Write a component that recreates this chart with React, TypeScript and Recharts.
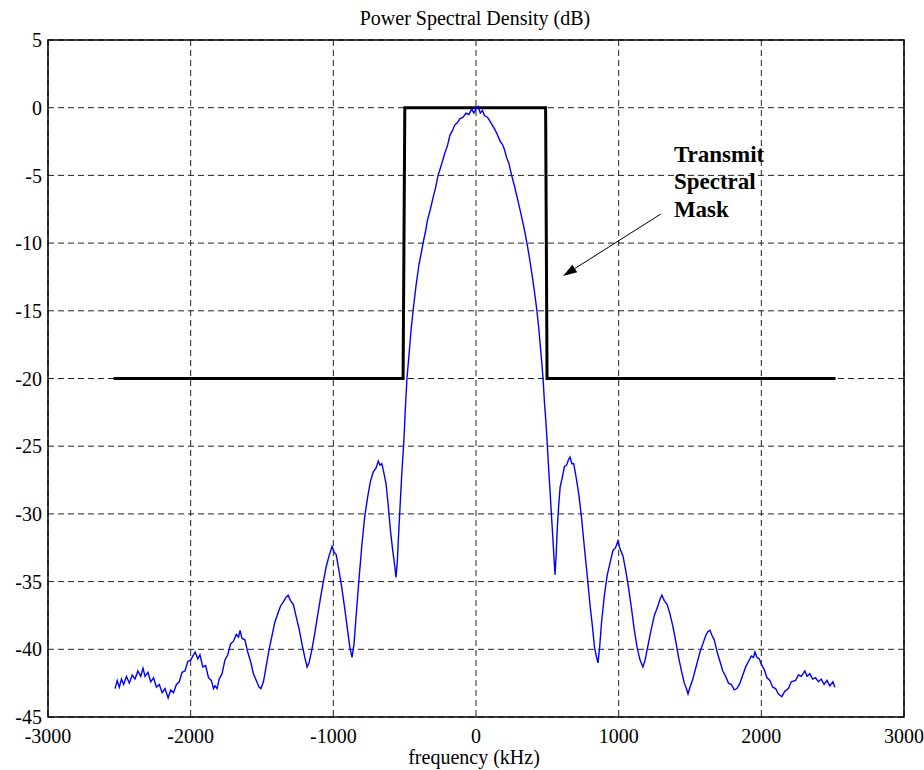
import { LineChart, Line, XAxis, YAxis, CartesianGrid, ReferenceArea, ReferenceLine } from 'recharts'

// frequency ticks (kHz) and level ticks (dB)
const FREQ_TICKS = [-3000, -2000, -1000, 0, 1000, 2000, 3000]
const DB_TICKS = [5, 0, -5, -10, -15, -20, -25, -30, -35, -40, -45]

// transmit spectral mask
const MASK_F = [-2540, -511, -499, 488, 498, 2520]
const MASK_DB = [-20, -20, 0, 0, -20, -20]

const PSD_F = [
  -2530, -2515, -2500, -2485, -2470, -2450, -2430, -2410, -2390, -2370, -2350, -2334, -2320, -2300, -2280, -2260,
  -2240, -2220, -2200, -2180, -2158, -2140, -2120, -2100, -2080, -2060, -2040, -2020, -2000, -1985, -1969, -1950,
  -1935, -1915, -1895, -1875, -1855, -1840, -1829, -1815, -1800, -1780, -1760, -1740, -1720, -1700, -1680, -1665,
  -1654, -1640, -1620, -1600, -1580, -1560, -1540, -1520, -1507, -1490, -1470, -1450, -1430, -1410, -1390, -1370,
  -1350, -1335, -1317, -1300, -1280, -1260, -1240, -1220, -1200, -1184, -1170, -1150, -1130, -1110, -1090, -1070,
  -1050, -1030, -1009, -995, -980, -960, -940, -920, -900, -885, -869, -855, -840, -820, -800, -780,
  -760, -740, -720, -700, -685, -673, -660, -645, -630, -615, -600, -585, -570, -561, -552, -540,
  -530, -520, -505, -495, -484, -470, -455, -441, -420, -400, -385, -371, -355, -340, -320, -300,
  -283, -266, -245, -220, -200, -182, -165, -150, -130, -112, -90, -70, -50, -30, -15, 0,
  15, 30, 45, 60, 80, 98, 115, 132, 150, 170, 185, 200, 215, 230, 250, 270,
  290, 310, 329, 343, 357, 375, 395, 410, 427, 440, 450, 460, 470, 480, 490, 498,
  510, 520, 530, 540, 548, 554, 562, 570, 580, 590, 605, 620, 635, 648, 659, 672,
  685, 700, 720, 740, 760, 780, 800, 815, 830, 843, 855, 867, 880, 900, 920, 940,
  960, 978, 995, 1010, 1030, 1050, 1070, 1090, 1110, 1130, 1150, 1170, 1185, 1200, 1225, 1250,
  1275, 1290, 1303, 1320, 1340, 1360, 1380, 1400, 1420, 1440, 1460, 1475, 1486, 1500, 1520, 1545,
  1570, 1590, 1610, 1625, 1640, 1655, 1670, 1690, 1710, 1730, 1750, 1770, 1790, 1810, 1829, 1850,
  1870, 1890, 1910, 1930, 1945, 1955, 1970, 1985, 2000, 2020, 2040, 2060, 2080, 2100, 2120, 2144,
  2165, 2190, 2210, 2240, 2260, 2280, 2305, 2320, 2340, 2360, 2380, 2400, 2420, 2440, 2460, 2480,
  2502, 2515,
]
const PSD_DB = [
  -42.9, -42.3, -42.8, -42.2, -42.6, -42.0, -42.5, -41.9, -42.2, -41.6, -42.0, -41.4, -42.0, -41.7, -42.4, -42.1,
  -42.8, -42.6, -43.2, -42.9, -43.6, -43.0, -43.2, -42.6, -42.4, -41.7, -41.6, -40.9, -40.8, -40.5, -40.2, -40.7,
  -40.4, -41.3, -41.2, -42.1, -42.3, -42.9, -42.7, -42.9, -42.2, -41.8, -40.8, -40.4, -39.6, -39.4, -38.9, -39.1,
  -38.6, -39.2, -39.3, -40.2, -40.9, -41.8, -42.3, -42.8, -42.9, -42.4, -41.2, -40.0, -39.0, -38.0, -37.4, -36.8,
  -36.5, -36.2, -36.0, -36.4, -36.7, -37.6, -38.5, -39.6, -40.6, -41.3, -41.0, -40.0, -38.8, -37.5, -36.2, -35.0,
  -33.9, -33.1, -32.4, -32.8, -33.0, -34.2, -35.5, -37.0, -38.6, -39.8, -40.6, -39.6, -37.5, -34.8, -32.3, -30.2,
  -28.8, -27.6, -26.9, -26.6, -26.1, -26.4, -26.3, -27.0, -27.8, -29.4, -31.2, -32.6, -33.8, -34.7, -33.6, -31.0,
  -29.0, -27.0, -24.5, -22.2, -20.0, -18.3, -16.4, -15.0, -13.1, -11.6, -10.8, -10.0, -9.2, -8.3, -7.5, -6.6,
  -5.9, -5.0, -4.3, -3.4, -2.8, -2.0, -1.7, -1.3, -1.1, -0.8, -0.7, -0.4, -0.5, -0.1, -0.4, -0.1,
  0.1, -0.4, -0.2, -0.6, -0.7, -1.0, -1.3, -1.6, -2.0, -2.5, -2.7, -3.1, -3.7, -4.1, -5.0, -5.8,
  -6.7, -7.6, -8.5, -9.2, -10.0, -11.1, -12.5, -13.6, -15.0, -16.3, -17.5, -18.7, -20.0, -21.8, -23.2, -24.6,
  -26.8, -28.5, -30.3, -32.0, -33.5, -34.5, -33.0, -31.0, -29.3, -28.0, -27.3, -26.5, -26.4, -26.0, -25.8, -26.3,
  -26.3, -27.2, -28.5, -30.3, -32.5, -34.6, -36.8, -38.2, -39.8, -40.5, -41.0, -39.8, -38.0, -36.0, -34.5, -33.6,
  -32.7, -32.5, -32.0, -32.6, -33.1, -34.2, -35.5, -37.0, -38.6, -39.9, -40.8, -41.3, -40.8, -40.0, -38.7, -37.5,
  -36.8, -36.3, -36.0, -36.4, -36.7, -37.4, -38.3, -39.4, -40.6, -41.6, -42.5, -42.9, -43.3, -42.8, -42.2, -41.2,
  -40.2, -39.6, -39.0, -38.7, -38.6, -39.0, -39.3, -40.2, -40.9, -41.6, -42.0, -42.5, -42.6, -43.0, -42.9, -42.5,
  -41.9, -41.3, -40.9, -40.5, -40.6, -40.2, -40.6, -40.7, -41.1, -41.5, -42.1, -42.3, -42.8, -42.9, -43.3, -43.5,
  -43.1, -42.9, -42.4, -42.3, -41.9, -42.0, -41.6, -42.0, -41.8, -42.2, -42.1, -42.4, -42.2, -42.6, -42.3, -42.7,
  -42.4, -42.8,
]

// annotation arrow, in data units
const ARROW_FROM = { x: 1296, y: -7.85 }
const ARROW_TO = { x: 610, y: -12.43 }
const NOTE_LINES = ['Transmit', 'Spectral', 'Mask']

const maskData = MASK_F.map((f, i) => ({ f, db: MASK_DB[i] }))
const psdData = PSD_F.map((f, i) => ({ f, db: PSD_DB[i] }))

const FONT = '"Liberation Serif", "Times New Roman", serif'

function ArrowNote(props: any) {
  const { x1, y1, x2, y2 } = props
  const ang = Math.atan2(y2 - y1, x2 - x1)
  const len = 14
  const half = 4.5
  const bx = x2 - len * Math.cos(ang)
  const by = y2 - len * Math.sin(ang)
  const px = -Math.sin(ang) * half
  const py = Math.cos(ang) * half
  return (
    <g>
      <line x1={x1} y1={y1} x2={bx} y2={by} stroke="#000" strokeWidth={1} />
      <polygon points={`${x2},${y2} ${bx + px},${by + py} ${bx - px},${by - py}`} fill="#000" />
      {NOTE_LINES.map((t, i) => (
        <text key={t} x={x1 + 13} y={y1 - 52 + i * 27.5} fontWeight="bold" fontSize={23} fill="#000">
          {t}
        </text>
      ))}
    </g>
  )
}

function FreqTick({ x, y, payload }: any) {
  return (
    <text x={x} y={y} dy="0.71em" textAnchor="middle" fontSize={20} fill="#000" className="serif-tick">
      {payload.value}
    </text>
  )
}

function DbTick({ x, y, payload }: any) {
  return (
    <text x={x} y={y} dy="0.355em" textAnchor="end" fontSize={20} fill="#000" className="serif-tick">
      {payload.value}
    </text>
  )
}

export default function App() {
  return (
    <div className="psd-plot" style={{ position: 'absolute', left: 0, top: 0, width: 924, height: 770, background: '#fff' }}>
      <style>{`.psd-plot svg text, .psd-plot svg tspan { font-family: ${FONT} !important; }`}</style>
      <LineChart width={924} height={770} margin={{ top: 40, right: 20, left: 0, bottom: 0 }}>
        <CartesianGrid stroke="#222" strokeDasharray="6 4" horizontalValues={DB_TICKS} verticalValues={FREQ_TICKS} />
        <XAxis
          type="number"
          dataKey="f"
          domain={[-3000, 3000]}
          ticks={FREQ_TICKS}
          allowDataOverflow
          height={53}
          axisLine={false}
          tickLine={false}
          tickSize={0}
          tickMargin={12}
          tick={FreqTick}
        />
        <YAxis
          type="number"
          domain={[-45, 5]}
          ticks={DB_TICKS}
          allowDataOverflow
          width={48}
          axisLine={false}
          tickLine={false}
          tickSize={0}
          tickMargin={6}
          tick={DbTick}
        />
        <Line data={maskData} dataKey="db" type="linear" stroke="#000" strokeWidth={3} dot={false} isAnimationActive={false} />
        <Line data={psdData} dataKey="db" type="linear" stroke="#0000ff" strokeWidth={1.4} dot={false} isAnimationActive={false} />
        <ReferenceArea x1={-3000} x2={3000} y1={-45} y2={5} fill="none" stroke="#000" strokeWidth={1.5} />
        <ReferenceLine segment={[ARROW_FROM, ARROW_TO]} shape={ArrowNote} />
      </LineChart>
      <svg width={924} height={770} style={{ position: 'absolute', left: 0, top: 0, pointerEvents: 'none' }}>
        <text x={475} y={25} textAnchor="middle" fontSize={20} fill="#000">
          Power Spectral Density (dB)
        </text>
        <text x={474} y={764} textAnchor="middle" fontSize={20} fill="#000">
          frequency (kHz)
        </text>
      </svg>
    </div>
  )
}
